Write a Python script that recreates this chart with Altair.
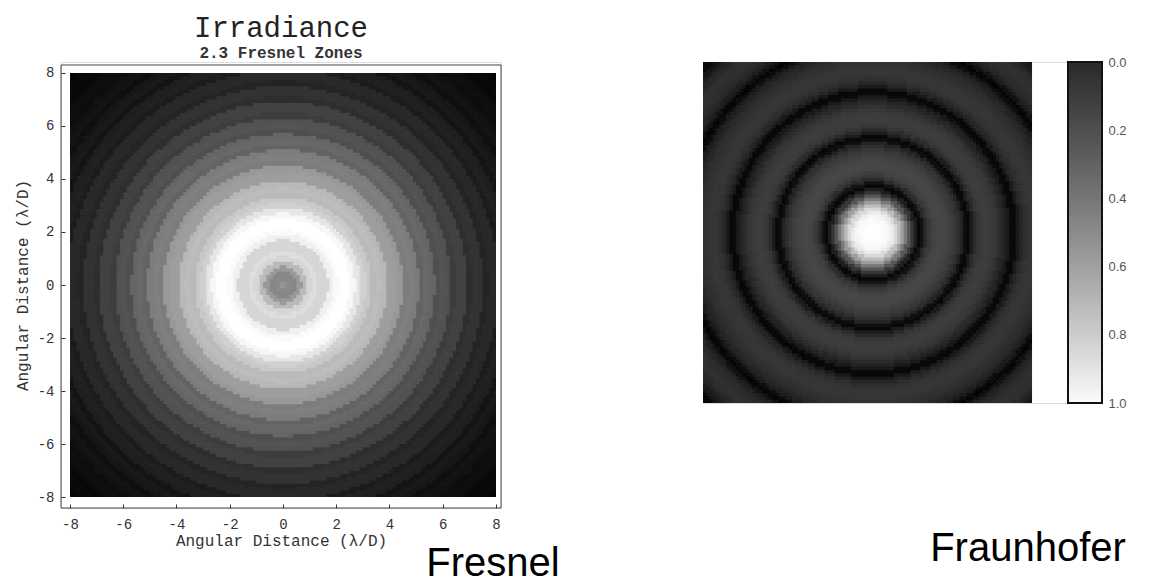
import math
import altair as alt
import pandas as pd

alt.data_transformers.disable_max_rows()

# ---------------- data ----------------
AXIS_TICKS = [-8, -6, -4, -2, 0, 2, 4, 6, 8]
COLORBAR_TICKS = [0.0, 0.2, 0.4, 0.6, 0.8, 1.0]

# Fresnel irradiance (grey level 0..1) read along a radius, every 0.2 λ/D from the centre
FRESNEL_R_STEP = 0.2
FRESNEL_PROFILE = [
    0.58, 0.54, 0.53, 0.60, 0.73, 0.84, 0.87, 0.84, 0.84, 0.94,
    0.98, 1.00, 1.00, 0.97, 0.90, 0.82, 0.79, 0.73, 0.74, 0.72,
    0.62, 0.62, 0.60, 0.49, 0.50, 0.49, 0.39, 0.41, 0.40, 0.31,
    0.33, 0.32, 0.24, 0.26, 0.26, 0.18, 0.20, 0.20, 0.14, 0.16,
    0.16, 0.11, 0.13, 0.12, 0.08, 0.10, 0.09, 0.06, 0.08, 0.07,
    0.05, 0.06, 0.05, 0.03, 0.04, 0.03, 0.02, 0.02,
]

# Fraunhofer irradiance (grey level 0..1) read along a radius, every 0.1 unit from the centre
FRAUN_R_STEP = 0.1
FRAUN_PROFILE = [
    1.00, 1.00, 1.00, 0.99, 0.98, 0.96, 0.92, 0.85, 0.74, 0.62,
    0.48, 0.34, 0.22, 0.12, 0.03, 0.08, 0.17, 0.22, 0.25, 0.27,
    0.28, 0.28, 0.27, 0.26, 0.24, 0.22, 0.19, 0.14, 0.06, 0.03,
    0.11, 0.17, 0.21, 0.23, 0.24, 0.24, 0.23, 0.22, 0.20, 0.17,
    0.14, 0.10, 0.04, 0.03, 0.10, 0.15, 0.18, 0.20, 0.21, 0.21,
    0.21, 0.20, 0.19, 0.18, 0.16, 0.14, 0.11, 0.05, 0.02, 0.07,
    0.12, 0.15, 0.17, 0.18, 0.19, 0.19, 0.18, 0.16, 0.14, 0.11,
    0.08, 0.03, 0.04, 0.09, 0.12, 0.14,
]

# image extents (data units)
FRESNEL_EXTENT = (-8.0, 8.0, -8.0, 8.0)
FRAUN_EXTENT = (-5.15, 4.82, -5.15, 5.18)


def radial_grid(extent, nx, ny, profile, rstep):
    x0, x1, y0, y1 = extent
    dx = (x1 - x0) / nx
    dy = (y1 - y0) / ny
    rows = []
    for j in range(ny):
        ya = y0 + j * dy
        cy = ya + dy / 2
        for i in range(nx):
            xa = x0 + i * dx
            cx = xa + dx / 2
            k = min(int(round(math.hypot(cx, cy) / rstep)), len(profile) - 1)
            rows.append({
                "x": round(xa, 4), "x2": round(min(xa + dx * 1.5, x1), 4),
                "y": round(ya, 4), "y2": round(min(ya + dy * 1.5, y1), 4),
                "v": profile[k],
            })
    return pd.DataFrame(rows)


fres_df = radial_grid(FRESNEL_EXTENT, 128, 128, FRESNEL_PROFILE, FRESNEL_R_STEP)
fraun_df = radial_grid(FRAUN_EXTENT, 100, 103, FRAUN_PROFILE, FRAUN_R_STEP)
cb_df = pd.DataFrame({"v": [i / 100 for i in range(100)]})
cb_df["v2"] = (cb_df["v"] + 0.016).clip(upper=1.0)
cb_df["c0"] = 0.0
cb_df["c1"] = 1.0

mono = "Liberation Mono"
sans = "Liberation Sans"
gray = alt.Scale(domain=[0, 1], range=["#000000", "#ffffff"], interpolate="rgb")
neg = "datum.value < 0 ? '-' + abs(datum.value) : '' + datum.value"

# ---------------- Fresnel panel ----------------
xs_a = alt.Scale(domain=[-8.338, 8.188], nice=False, zero=False)
ys_a = alt.Scale(domain=[-8.415, 8.415], nice=False, zero=False)

x_axis = alt.Axis(values=AXIS_TICKS, offset=-4, tickSize=4, tickColor="#333", domain=False,
                  grid=False, labelFont=mono, labelFontSize=14, labelColor="#333",
                  labelPadding=9, labelFlush=False, labelExpr=neg,
                  title="Angular Distance (λ/D)", titleFont=mono, titleFontSize=16,
                  titleFontWeight="normal", titleColor="#333", titlePadding=1)
y_axis = alt.Axis(values=AXIS_TICKS, offset=-4, tickSize=4, tickColor="#333", domain=False,
                  grid=False, labelFont=mono, labelFontSize=14, labelColor="#333",
                  labelPadding=7, labelFlush=False, labelExpr=neg,
                  title="Angular  Distance  (λ/D)", titleFont=mono, titleFontSize=16,
                  titleFontWeight="normal", titleColor="#333", titlePadding=7)

fres = alt.Chart(fres_df).mark_rect(strokeWidth=0).encode(
    x=alt.X("x:Q", scale=xs_a, axis=x_axis),
    x2="x2:Q",
    y=alt.Y("y:Q", scale=ys_a, axis=y_axis),
    y2="y2:Q",
    color=alt.Color("v:Q", scale=gray, legend=None),
)
frame_a = alt.Chart(pd.DataFrame({"a": [-8.338], "b": [8.188], "c": [-8.415], "d": [8.302]})).mark_rect(
    fillOpacity=0, stroke="#444", strokeWidth=1
).encode(x=alt.X("a:Q", scale=xs_a), x2="b:Q", y=alt.Y("c:Q", scale=ys_a), y2="d:Q")
fres_label = alt.Chart(pd.DataFrame({"t": ["Fresnel"]})).mark_text(
    font=sans, fontSize=40, align="center", baseline="alphabetic", color="#000"
).encode(text="t:N", x=alt.value(432), y=alt.value(514))

chart_a = alt.layer(fres, frame_a, fres_label).properties(
    width=440, height=446,
    title=alt.TitleParams(text="Irradiance", subtitle="2.3 Fresnel Zones", font=mono,
                          fontSize=29, fontWeight="normal", color="#222",
                          subtitleFont=mono, subtitleFontSize=16, subtitleFontWeight="bold",
                          subtitleColor="#333", subtitlePadding=2, offset=1, anchor="middle"),
)

# ---------------- Fraunhofer panel + colour bar ----------------
xs_b = alt.Scale(domain=[-5.15, 6.94], nice=False, zero=False)
ys_b = alt.Scale(domain=[-5.15, 5.18], nice=False, zero=False)
xs_cb = alt.Scale(domain=[-10.735, 1.0], nice=False, zero=False)
ys_cb = alt.Scale(domain=[0, 1], reverse=True, nice=False, zero=False)

fraun = alt.Chart(fraun_df).mark_rect(strokeWidth=0).encode(
    x=alt.X("x:Q", scale=xs_b, axis=None),
    x2="x2:Q",
    y=alt.Y("y:Q", scale=ys_b, axis=None),
    y2="y2:Q",
    color=alt.Color("v:Q", scale=gray, legend=None),
)
cbar = alt.Chart(cb_df).mark_rect(strokeWidth=0).encode(
    x=alt.X("c0:Q", scale=xs_cb, axis=None),
    x2="c1:Q",
    y=alt.Y("v:Q", scale=ys_cb,
            axis=alt.Axis(orient="right", values=COLORBAR_TICKS, format=".1f", ticks=False,
                          domain=False, grid=False, labelFont=sans, labelFontSize=13,
                          labelColor="#555", labelPadding=6, title=None)),
    y2="v2:Q",
    color=alt.Color("v:Q", scale=alt.Scale(domain=[0, 1], range=["#2b2b2b", "#fcfcfc"]), legend=None),
)
cb_frame = alt.Chart(pd.DataFrame({"a": [0.0], "b": [1.0], "c": [0.0], "d": [1.0]})).mark_rect(
    fillOpacity=0, stroke="#111", strokeWidth=2
).encode(x=alt.X("a:Q", scale=xs_cb, axis=None), x2="b:Q",
         y=alt.Y("c:Q", scale=ys_cb, axis=None), y2="d:Q")
fraun_label = alt.Chart(pd.DataFrame({"t": ["Fraunhofer"]})).mark_text(
    font=sans, fontSize=40, align="center", baseline="alphabetic", color="#000"
).encode(text="t:N", x=alt.value(325), y=alt.value(499))

chart_b = alt.layer(fraun, cbar, cb_frame, fraun_label).resolve_scale(
    x="independent", y="independent", color="independent"
).properties(width=399, height=341)

chart = alt.hconcat(chart_a, chart_b, spacing=202, bounds="flush").configure_view(
    strokeWidth=0
).configure(background="white")

chart.save("out.html", embed_options={"renderer": "svg", "actions": False})
